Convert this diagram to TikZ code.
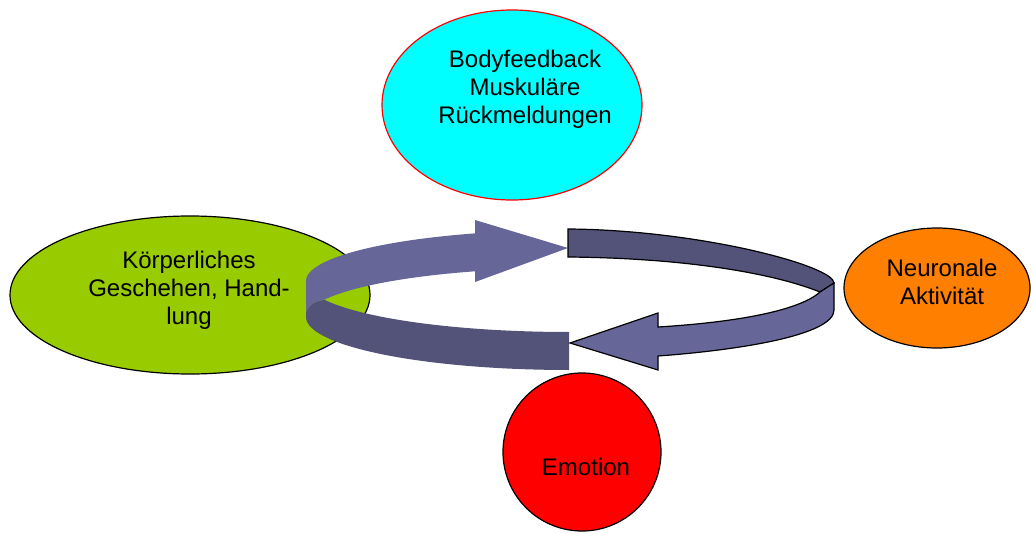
\documentclass[tikz,border=0pt]{standalone}
\usepackage{fontspec}
\setmainfont{Liberation Sans}
\usetikzlibrary{shapes.geometric}
\definecolor{cyanfill}{RGB}{0,255,255}
\definecolor{greenfill}{RGB}{153,204,0}
\definecolor{orangefill}{RGB}{255,128,0}
\definecolor{redfill}{RGB}{255,0,0}
\definecolor{bandlight}{RGB}{102,102,153}
\definecolor{banddark}{RGB}{83,83,122}
\tikzset{
  blob/.style={ellipse, draw=black, line width=0.6pt, inner sep=0pt, outer sep=0pt},
  lbl/.style={align=center, inner sep=0pt, font=\fontsize{12}{14}\selectfont},
  lightpart/.style={fill=bandlight},
  darkpart/.style={fill=banddark},
  outlined/.style={draw=black, line width=0.6pt, line join=miter},
}
\begin{document}
\begin{tikzpicture}[x=0.5pt,y=-0.5pt]
\useasboundingbox (0,0) rectangle (1031,534);
% nodes
\node[blob, draw=red, fill=cyanfill, minimum width=130pt, minimum height=95pt] (body) at (512,105) {};
\node[lbl] (bodytext) at (525,89) {Bodyfeedback\\Muskuläre\\Rückmeldungen};
\node[blob, fill=greenfill, minimum width=180pt, minimum height=79pt] (koerper) at (190,295) {};
\node[lbl] (koerpertext) at (189,290) {Körperliches\\Geschehen, Hand-\\lung};
\node[blob, fill=orangefill, minimum width=93pt, minimum height=60pt] (neuro) at (937,288) {};
\node[lbl] (neurotext) at (942,282) {Neuronale\\Aktivität};
\node[blob, circle, fill=redfill, minimum size=79pt] (emotion) at (582,452) {};
\node[lbl] (emotiontext) at (586,467) {Emotion};
% left arrow piece (no outline)
\fill[darkpart] (323,300)
  -- plot[domain=200.7:270, samples=40] ({569+263*cos(\x)},{281-51*sin(\x)})
  -- (569,370)
  -- plot[domain=270:180, samples=40] ({569+263*cos(\x)},{317-53*sin(\x)})
  -- (306,312) .. controls (308,305) and (315,301) .. (323,300) -- cycle;
\fill[lightpart] (568,248) -- (475,220)
  -- plot[domain=110.9:180, samples=40] ({569+263*cos(\x)},{281-51*sin(\x)})
  -- (306,312) .. controls (308,305) and (315,301) .. (323,300)
  -- plot[domain=159.3:110.9, samples=40] ({569+263*cos(\x)},{318-50*sin(\x)})
  -- (475,282) -- cycle;
% right arrow piece (outlined)
\filldraw[darkpart, outlined] (568,229) .. controls (700,230) and (834,266) .. (834,283)
  -- (820,292) .. controls (770,272) and (680,258) .. (568,257) -- cycle;
\filldraw[lightpart, outlined] (820,292) -- (834,283) -- (834,310)
  .. controls (834,335) and (740,350) .. (658,356)
  -- (658,370) -- (570,343) -- (658,313) -- (658,327)
  .. controls (740,322) and (800,310) .. (820,292) -- cycle;
\end{tikzpicture}
\end{document}
